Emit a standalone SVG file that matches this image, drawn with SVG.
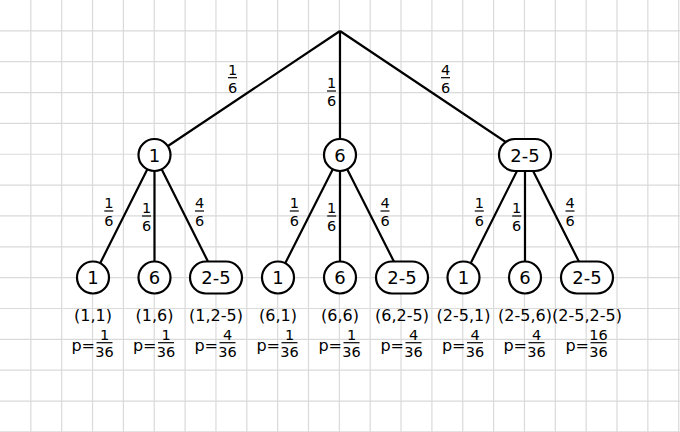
<svg xmlns="http://www.w3.org/2000/svg" width="680" height="432" viewBox="0 0 680 432">
<style>
.grid{stroke:#dadada;stroke-width:1.2;fill:none}
.edge{stroke:#000;stroke-width:2.2;fill:none}
.node{fill:#fff;stroke:#000;stroke-width:2.2}
.nt{font-family:"DejaVu Sans",Verdana,sans-serif;font-size:18px;text-anchor:middle;fill:#000}
.fr{font-family:"DejaVu Sans",Verdana,sans-serif;font-size:14.5px;text-anchor:middle;fill:#000}
.bar{stroke:#000;stroke-width:1.2}
.lb{font-family:"DejaVu Sans",Verdana,sans-serif;font-size:16px;text-anchor:middle;fill:#000}
.pe{font-family:"DejaVu Sans",Verdana,sans-serif;font-size:16px;text-anchor:end;fill:#000}
</style>
<rect width="680" height="432" fill="#fff"/>
<path class="grid" d="M30.85 0V432M61.7 0V432M92.55 0V432M123.4 0V432M154.25 0V432M185.1 0V432M215.95 0V432M246.8 0V432M277.65 0V432M308.5 0V432M339.35 0V432M370.2 0V432M401.05 0V432M431.9 0V432M462.75 0V432M493.6 0V432M524.45 0V432M555.3 0V432M586.15 0V432M617 0V432M647.85 0V432M678.7 0V432M0 30.85H680M0 61.7H680M0 92.55H680M0 123.4H680M0 154.25H680M0 185.1H680M0 215.95H680M0 246.8H680M0 277.65H680M0 308.5H680M0 339.35H680M0 370.2H680M0 401.05H680M0 431.9H680"/>
<g id="connectors">
<path class="edge" d="M340 31L154.5 155M340 31L340 155M340 31L525 155"/>
<path class="edge" d="M154.5 155L93 277.5M154.5 155L154.5 277.5M154.5 155L216 277.5"/>
<path class="edge" d="M340 155L278 277.5M340 155L340 277.5M340 155L402 277.5"/>
<path class="edge" d="M525 155L463.5 277.5M525 155L525 277.5M525 155L587 277.5"/>
</g>
<g id="edge-labels">
<g><text class="fr" x="232.5" y="74.8">1</text><line class="bar" x1="228" y1="77.7" x2="237" y2="77.7"/><text class="fr" x="232.5" y="93">6</text></g>
<g><text class="fr" x="331.5" y="88">1</text><line class="bar" x1="327" y1="91" x2="336" y2="91"/><text class="fr" x="331.5" y="106.3">6</text></g>
<g><text class="fr" x="445.5" y="74.8">4</text><line class="bar" x1="441" y1="77.7" x2="450" y2="77.7"/><text class="fr" x="445.5" y="93">6</text></g>
<g><text class="fr" x="108.8" y="208">1</text><line class="bar" x1="104.3" y1="211" x2="113.3" y2="211"/><text class="fr" x="108.8" y="226.3">6</text></g>
<g><text class="fr" x="146.5" y="213">1</text><line class="bar" x1="142" y1="216" x2="151" y2="216"/><text class="fr" x="146.5" y="231.3">6</text></g>
<g><text class="fr" x="199.5" y="208">4</text><line class="bar" x1="195" y1="211" x2="204" y2="211"/><text class="fr" x="199.5" y="226.3">6</text></g>
<g><text class="fr" x="294.3" y="208">1</text><line class="bar" x1="289.8" y1="211" x2="298.8" y2="211"/><text class="fr" x="294.3" y="226.3">6</text></g>
<g><text class="fr" x="331.7" y="213">1</text><line class="bar" x1="327.2" y1="216" x2="336.2" y2="216"/><text class="fr" x="331.7" y="231.3">6</text></g>
<g><text class="fr" x="385" y="208">4</text><line class="bar" x1="380.5" y1="211" x2="389.5" y2="211"/><text class="fr" x="385" y="226.3">6</text></g>
<g><text class="fr" x="479.3" y="208">1</text><line class="bar" x1="474.8" y1="211" x2="483.8" y2="211"/><text class="fr" x="479.3" y="226.3">6</text></g>
<g><text class="fr" x="516.7" y="213">1</text><line class="bar" x1="512.2" y1="216" x2="521.2" y2="216"/><text class="fr" x="516.7" y="231.3">6</text></g>
<g><text class="fr" x="570" y="208">4</text><line class="bar" x1="565.5" y1="211" x2="574.5" y2="211"/><text class="fr" x="570" y="226.3">6</text></g>
</g>
<g id="n1"><circle class="node" cx="154.5" cy="155" r="16"/><text class="nt" x="154.5" y="161.5">1</text></g>
<g id="n6"><circle class="node" cx="340" cy="155" r="16"/><text class="nt" x="340" y="161.5">6</text></g>
<g id="n25"><rect class="node" x="499" y="139" width="52" height="32" rx="16"/><text class="nt" x="525" y="161.5">2-5</text></g>
<g id="n1-1"><circle class="node" cx="93" cy="277.5" r="16"/><text class="nt" x="93" y="284">1</text><text class="lb" x="93" y="321">(1,1)</text><text class="pe" x="95" y="351">p=</text><text class="fr" x="104.5" y="340">1</text><line class="bar" x1="96.5" y1="342.7" x2="112.5" y2="342.7"/><text class="fr" x="104.5" y="357">36</text></g>
<g id="n1-6"><circle class="node" cx="154.5" cy="277.5" r="16"/><text class="nt" x="154.5" y="284">6</text><text class="lb" x="154.5" y="321">(1,6)</text><text class="pe" x="156.5" y="351">p=</text><text class="fr" x="166" y="340">1</text><line class="bar" x1="158" y1="342.7" x2="174" y2="342.7"/><text class="fr" x="166" y="357">36</text></g>
<g id="n1-25"><rect class="node" x="190" y="261.5" width="52" height="32" rx="16"/><text class="nt" x="216" y="284">2-5</text><text class="lb" x="216" y="321">(1,2-5)</text><text class="pe" x="218" y="351">p=</text><text class="fr" x="227.5" y="340">4</text><line class="bar" x1="219.5" y1="342.7" x2="235.5" y2="342.7"/><text class="fr" x="227.5" y="357">36</text></g>
<g id="n6-1"><circle class="node" cx="278" cy="277.5" r="16"/><text class="nt" x="278" y="284">1</text><text class="lb" x="278" y="321">(6,1)</text><text class="pe" x="280" y="351">p=</text><text class="fr" x="289.5" y="340">1</text><line class="bar" x1="281.5" y1="342.7" x2="297.5" y2="342.7"/><text class="fr" x="289.5" y="357">36</text></g>
<g id="n6-6"><circle class="node" cx="340" cy="277.5" r="16"/><text class="nt" x="340" y="284">6</text><text class="lb" x="340" y="321">(6,6)</text><text class="pe" x="342" y="351">p=</text><text class="fr" x="351.5" y="340">1</text><line class="bar" x1="343.5" y1="342.7" x2="359.5" y2="342.7"/><text class="fr" x="351.5" y="357">36</text></g>
<g id="n6-25"><rect class="node" x="376" y="261.5" width="52" height="32" rx="16"/><text class="nt" x="402" y="284">2-5</text><text class="lb" x="402" y="321">(6,2-5)</text><text class="pe" x="404" y="351">p=</text><text class="fr" x="413.5" y="340">4</text><line class="bar" x1="405.5" y1="342.7" x2="421.5" y2="342.7"/><text class="fr" x="413.5" y="357">36</text></g>
<g id="n25-1"><circle class="node" cx="463.5" cy="277.5" r="16"/><text class="nt" x="463.5" y="284">1</text><text class="lb" x="463.5" y="321">(2-5,1)</text><text class="pe" x="465.5" y="351">p=</text><text class="fr" x="475" y="340">4</text><line class="bar" x1="467" y1="342.7" x2="483" y2="342.7"/><text class="fr" x="475" y="357">36</text></g>
<g id="n25-6"><circle class="node" cx="525" cy="277.5" r="16"/><text class="nt" x="525" y="284">6</text><text class="lb" x="525" y="321">(2-5,6)</text><text class="pe" x="527" y="351">p=</text><text class="fr" x="536.5" y="340">4</text><line class="bar" x1="528.5" y1="342.7" x2="544.5" y2="342.7"/><text class="fr" x="536.5" y="357">36</text></g>
<g id="n25-25"><rect class="node" x="561" y="261.5" width="52" height="32" rx="16"/><text class="nt" x="587" y="284">2-5</text><text class="lb" x="587" y="321">(2-5,2-5)</text><text class="pe" x="589" y="351">p=</text><text class="fr" x="598.5" y="340">16</text><line class="bar" x1="590.5" y1="342.7" x2="606.5" y2="342.7"/><text class="fr" x="598.5" y="357">36</text></g>
</svg>
